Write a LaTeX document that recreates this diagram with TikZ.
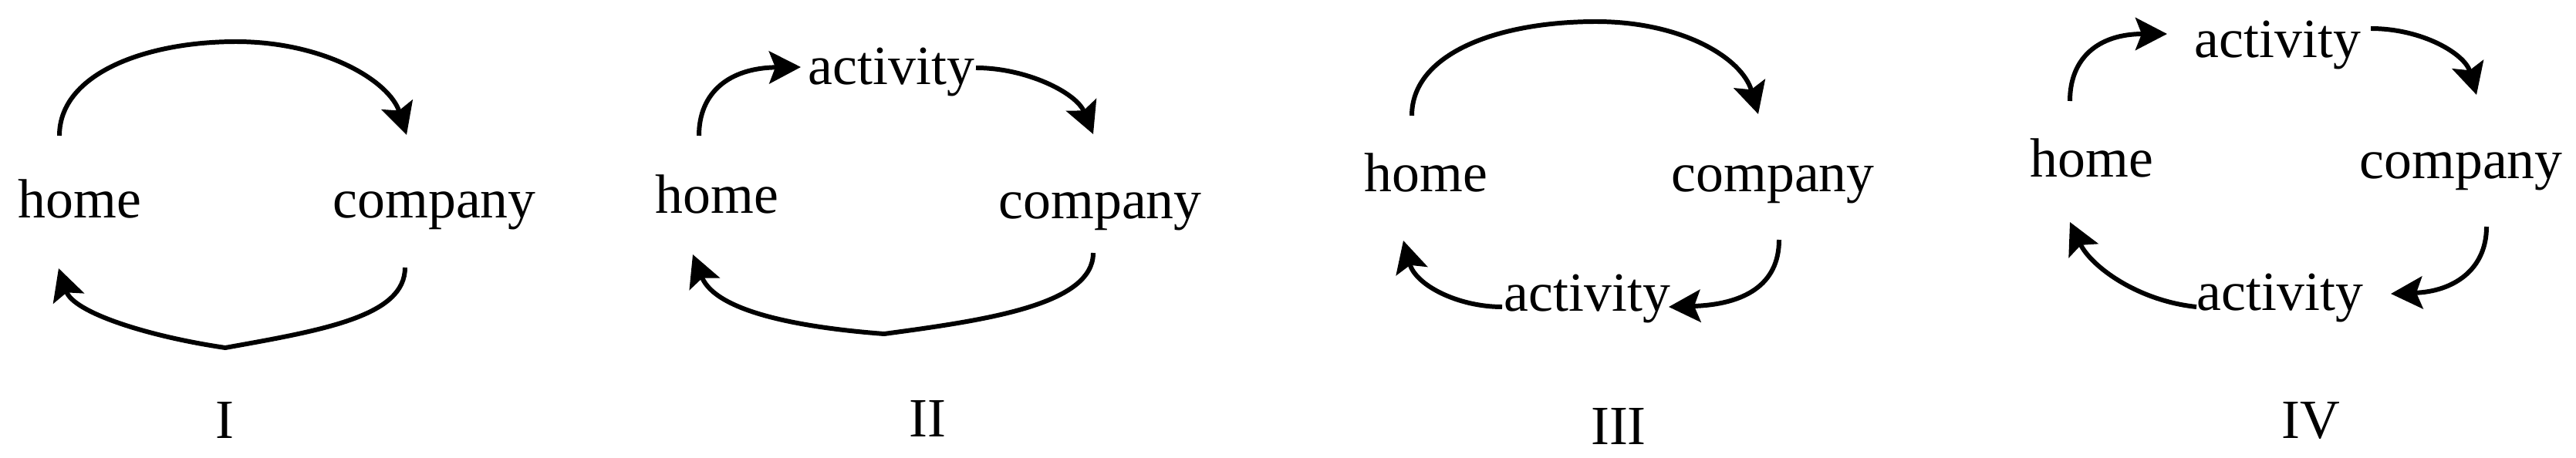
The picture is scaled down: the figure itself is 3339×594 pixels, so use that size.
\documentclass[tikz,border=0pt]{standalone}
\usepackage{fontspec}
\setmainfont{Liberation Serif}
\usetikzlibrary{arrows.meta}
\begin{document}
\begin{tikzpicture}[x=0.01cm,y=-0.01cm,
  lbl/.style={inner sep=0pt,anchor=base west,font=\fontsize{20.4}{24}\selectfont},
  panellbl/.style={inner sep=0pt,anchor=base,font=\fontsize{20.4}{24}\selectfont},
  flow/.style={line width=1.7pt,-{Stealth[length=4.1mm,width=4.2mm,inset=0.8mm]}}]
\useasboundingbox (0,0) rectangle (3339,594);
% Panel I
\node[lbl] (home1) at (23,282) {home};
\node[lbl] (comp1) at (431,282) {company};
\node[panellbl] (cap1) at (291,568) {I};
\coordinate (h1t) at (77,176);
\coordinate (c1t) at (527,175);
\coordinate (c1b) at (525,347);
\coordinate (h1b) at (76,348);
\draw[flow] (h1t) .. controls (77,95) and (190,54) .. (306,54) .. controls (420,54) and (505,105) .. (c1t);
\draw[flow] (c1b) .. controls (525,410) and (420,428) .. (292,451) .. controls (190,436) and (95,405) .. (h1b);
% Panel II
\node[lbl] (home2) at (849,276) {home};
\node[lbl] (comp2) at (1294,283) {company};
\node[lbl] (act2) at (1047,110) {activity};
\node[panellbl] (cap2) at (1202,566) {II};
\coordinate (h2t) at (906,176);
\coordinate (a2l) at (1038,87);
\coordinate (a2r) at (1265,88);
\coordinate (c2t) at (1417,174);
\coordinate (c2b) at (1417,328);
\coordinate (h2b) at (898,330);
\draw[flow] (h2t) .. controls (906,120) and (945,88) .. (a2l);
\draw[flow] (a2r) .. controls (1330,88) and (1395,120) .. (c2t);
\draw[flow] (c2b) .. controls (1417,395) and (1280,415) .. (1146,433) .. controls (1040,425) and (928,405) .. (h2b);
% Panel III
\node[lbl] (home3) at (1768,248) {home};
\node[lbl] (comp3) at (2166,248) {company};
\node[lbl] (act3) at (1949,403) {activity};
\node[panellbl] (cap3) at (2098,576) {III};
\coordinate (h3t) at (1830,150);
\coordinate (c3t) at (2279,148);
\coordinate (c3b) at (2306,311);
\coordinate (a3r) at (2163,398);
\coordinate (a3l) at (1947,398);
\coordinate (h3b) at (1819,312);
\draw[flow] (h3t) .. controls (1830,70) and (1940,28) .. (2069,28) .. controls (2180,28) and (2258,75) .. (c3t);
\draw[flow] (c3b) .. controls (2306,370) and (2260,395) .. (a3r);
\draw[flow] (a3l) .. controls (1890,398) and (1835,370) .. (h3b);
% Panel IV
\node[lbl] (act4a) at (2844,74) {activity};
\node[lbl] (home4) at (2631,229) {home};
\node[lbl] (comp4) at (3058,231) {company};
\node[lbl] (act4b) at (2847,402) {activity};
\node[panellbl] (cap4) at (2995,568) {IV};
\coordinate (h4t) at (2683,131);
\coordinate (a4al) at (2809,44);
\coordinate (a4ar) at (3073,37);
\coordinate (c4t) at (3210,123);
\coordinate (c4b) at (3223,294);
\coordinate (a4br) at (3099,381);
\coordinate (a4bl) at (2847,398);
\coordinate (h4b) at (2683,288);
\draw[flow] (h4t) .. controls (2683,75) and (2720,44) .. (a4al);
\draw[flow] (a4ar) .. controls (3140,37) and (3195,70) .. (c4t);
\draw[flow] (c4b) .. controls (3223,350) and (3180,378) .. (a4br);
\draw[flow] (a4bl) .. controls (2770,390) and (2710,345) .. (h4b);
\end{tikzpicture}
\end{document}
